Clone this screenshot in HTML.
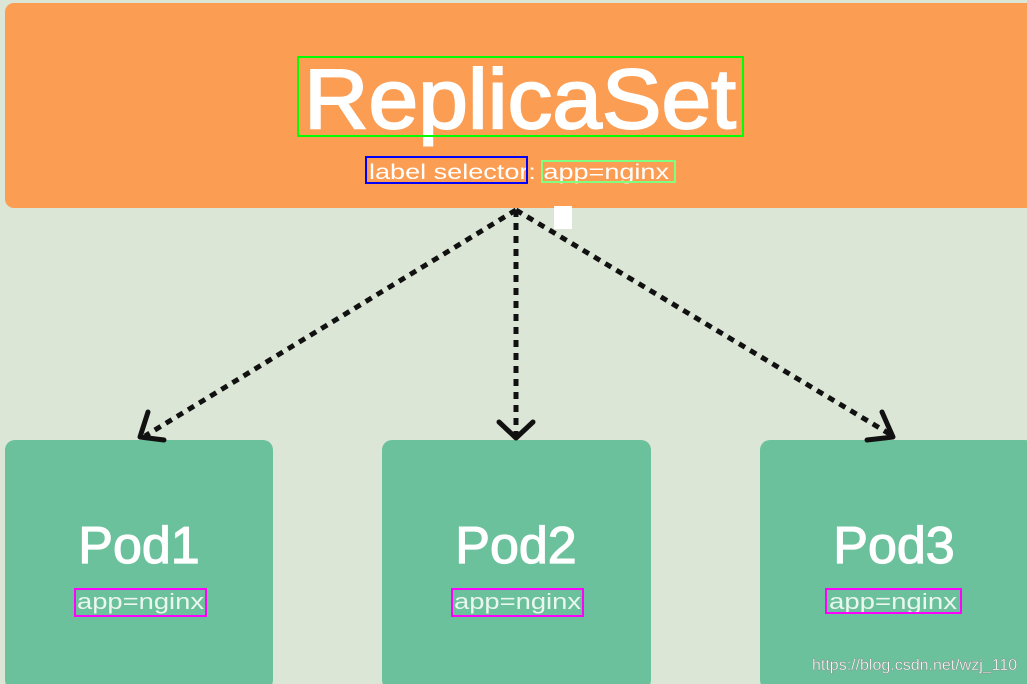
<!DOCTYPE html>
<html><head><style>
body{margin:0;width:1027px;height:684px;overflow:hidden;background:#dce6d6}
svg{display:block}
text{font-family:"Liberation Sans","DejaVu Sans",sans-serif}
</style></head><body>
<svg width="1027" height="684" xmlns="http://www.w3.org/2000/svg">
<rect x="0" y="0" width="1027" height="684" fill="#dce6d6"/>
<rect x="5" y="3" width="1030" height="205" rx="9" fill="#fb9d52"/>
<rect x="5" y="440" width="268" height="250" rx="10" fill="#6bc19c"/>
<rect x="382" y="440" width="269" height="250" rx="10" fill="#6bc19c"/>
<rect x="760" y="440" width="275" height="250" rx="10" fill="#6bc19c"/>
<text x="304" y="128" font-size="84" fill="#fff" stroke="#fff" stroke-width="2" textLength="432" lengthAdjust="spacingAndGlyphs">ReplicaSet</text>
<text x="369" y="179" font-size="21" fill="#fff" textLength="300" lengthAdjust="spacingAndGlyphs">label selector: app=nginx</text>
<g stroke="#111" stroke-width="5" fill="none" stroke-dasharray="7,6">
<line x1="516" y1="210" x2="145" y2="436"/>
<line x1="516" y1="210" x2="516" y2="436"/>
<line x1="516" y1="210" x2="893" y2="436"/>
</g>
<g stroke="#111" stroke-width="5" fill="none" stroke-linecap="round" stroke-linejoin="round">
<polyline points="148,412 140,437 164,440"/>
<polyline points="499,422 516,438 533,422"/>
<polyline points="867,440 893,437 882,412"/>
</g>
<rect x="554" y="206" width="18" height="23" fill="#fff"/>
<g fill="#fff" stroke="#fff" stroke-width="1.2" font-size="52" text-anchor="middle">
<text x="139" y="563">Pod1</text>
<text x="516" y="563">Pod2</text>
<text x="894" y="563">Pod3</text>
</g>
<text x="77" y="609" font-size="22" fill="#eaf6ee" textLength="127" lengthAdjust="spacingAndGlyphs">app=nginx</text>
<text x="454" y="609" font-size="22" fill="#eaf6ee" textLength="127" lengthAdjust="spacingAndGlyphs">app=nginx</text>
<text x="829" y="609" font-size="22" fill="#eaf6ee" textLength="128" lengthAdjust="spacingAndGlyphs">app=nginx</text>
<g fill="none" stroke-width="2">
<rect x="298" y="57" width="445" height="79" stroke="#00ff00"/>
<rect x="366" y="157" width="161" height="26" stroke="#0000ff"/>
<rect x="542" y="161" width="133" height="21" stroke="#80ff80"/>
<rect x="75" y="589" width="131" height="27" stroke="#ff00ff"/>
<rect x="452" y="589" width="131" height="27" stroke="#ff00ff"/>
<rect x="826" y="589" width="135" height="24" stroke="#ff00ff"/>
</g>
<text x="812" y="670" font-size="16" fill="#fff" stroke="#888" stroke-width="0.4">https://blog.csdn.net/wzj_110</text>
</svg>
</body></html>
